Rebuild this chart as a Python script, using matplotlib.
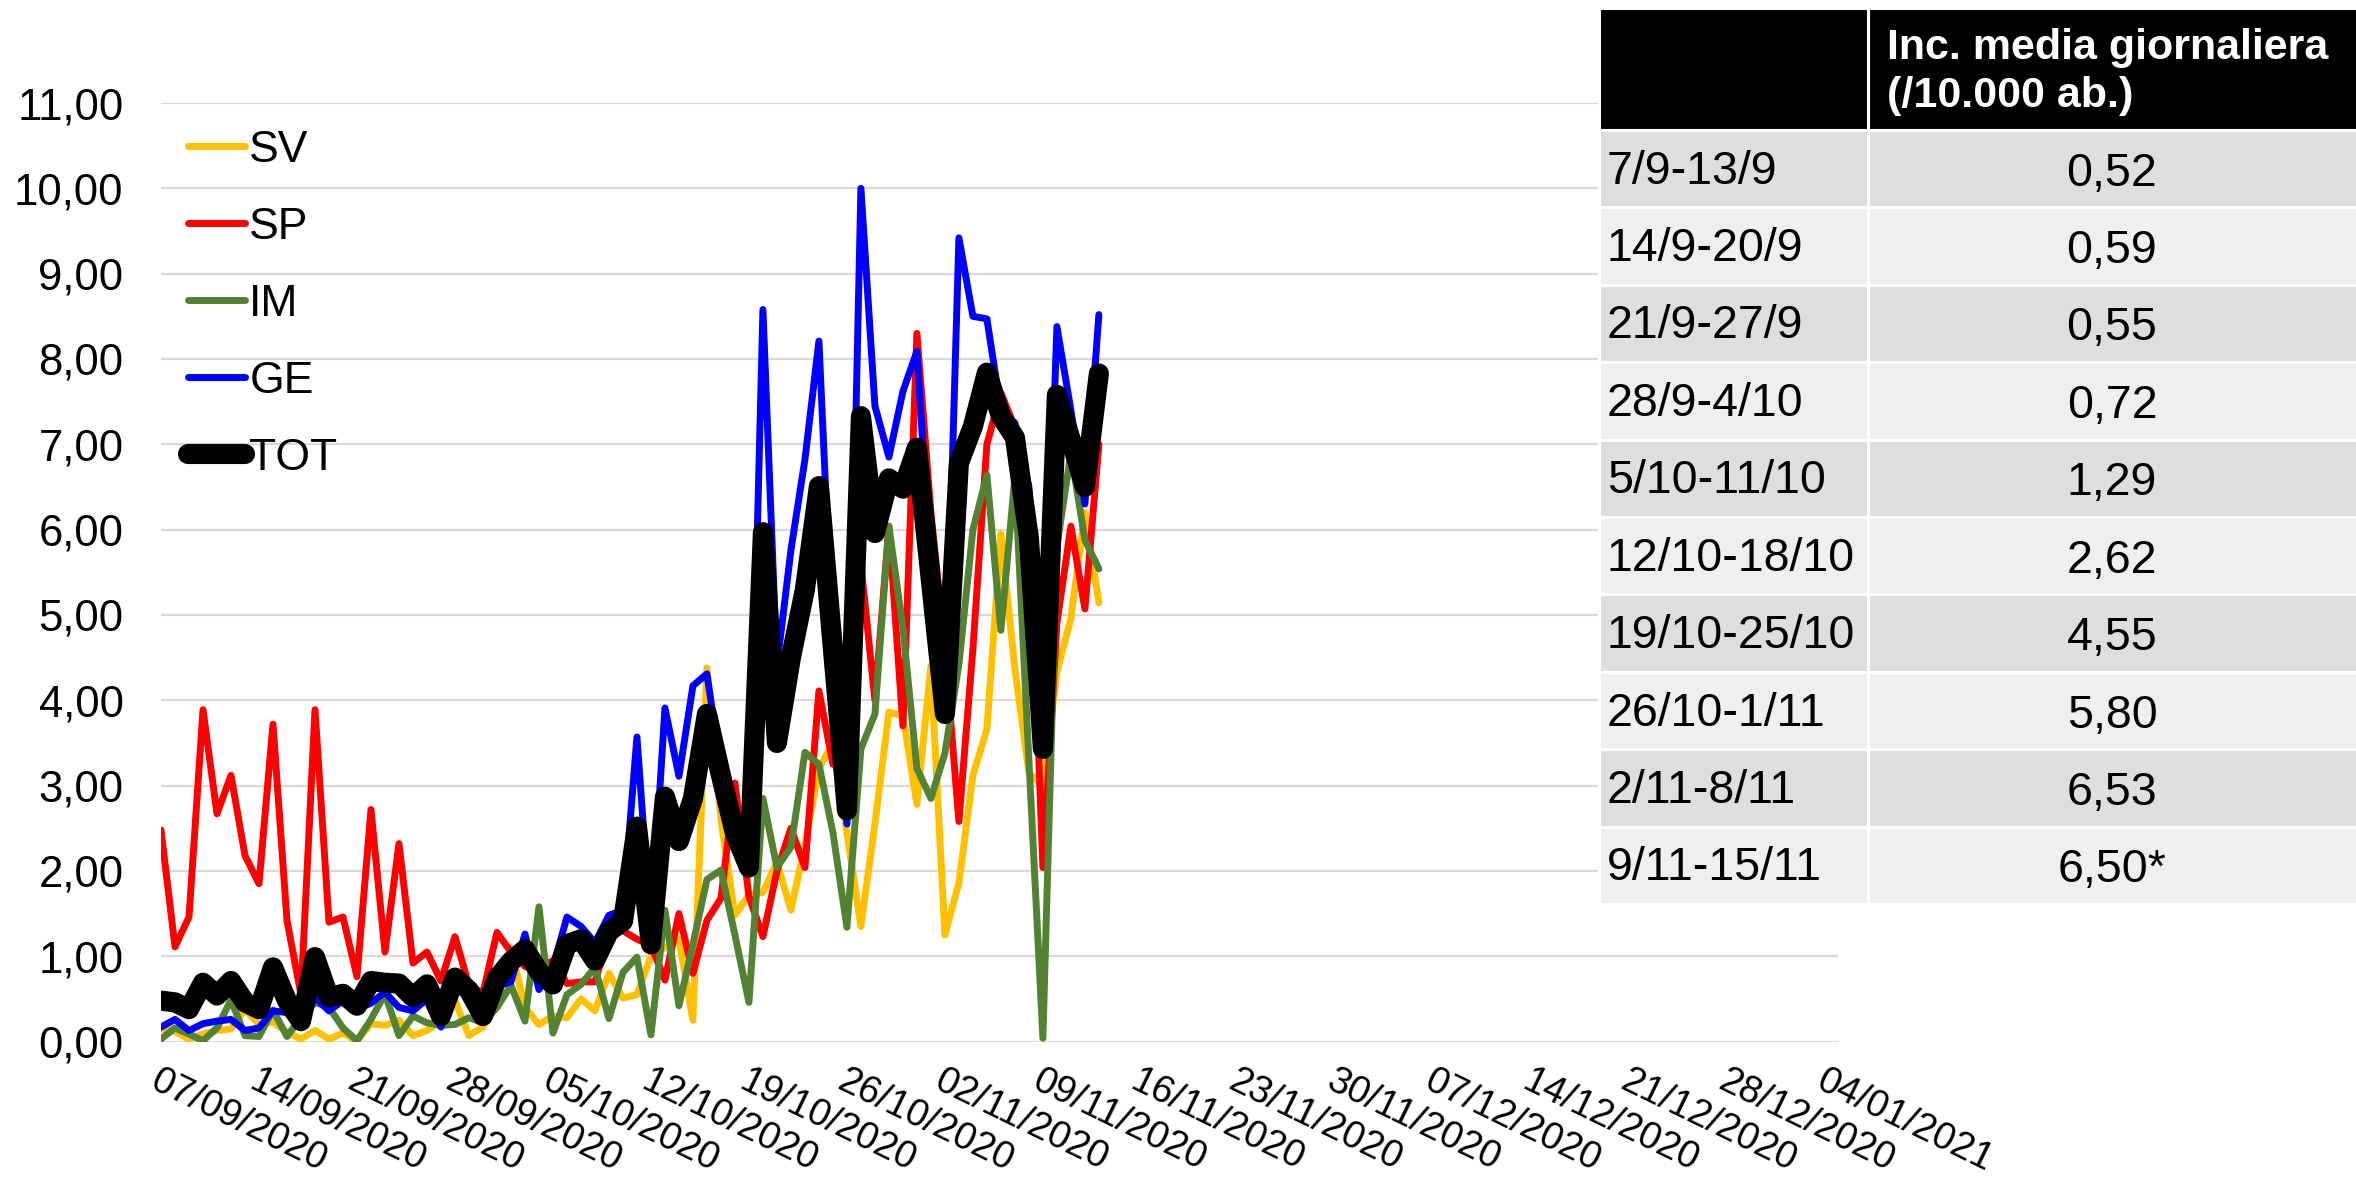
import matplotlib
matplotlib.use('Agg')
import matplotlib.pyplot as plt
from matplotlib.patches import Rectangle
from matplotlib.transforms import ScaledTranslation
import pandas as pd

plt.rcParams['font.family'] = ['Liberation Sans', 'DejaVu Sans']

# daily incidence per 10.000 inhabitants, 07/09/2020 - 13/11/2020
days = pd.date_range('2020-09-07', '2020-11-13', freq='D').to_pydatetime()

sv = [0.15, 0.12, 0.03, 0.09, 0.13, 0.15, 0.38, 0.20, 0.23, 0.11,
      0.03, 0.13, 0.03, 0.10, 0.01, 0.21, 0.19, 0.25, 0.07, 0.13,
      0.24, 0.48, 0.07, 0.17, 0.65, 1.10, 0.40, 0.20, 0.30, 0.28,
      0.50, 0.36, 0.80, 0.51, 0.55, 1.00, 1.10, 1.20, 0.25, 4.38,
      2.60, 1.48, 1.72, 1.75, 2.10, 1.54, 2.30, 3.20, 3.50, 2.45,
      1.35, 2.55, 3.86, 3.82, 2.78, 4.40, 1.25, 1.86, 3.12, 3.66,
      5.95, 4.37, 3.15, 3.00, 4.33, 4.96, 6.20, 5.14]
sp = [2.48, 1.11, 1.46, 3.89, 2.67, 3.12, 2.18, 1.85, 3.72, 1.42,
      0.55, 3.89, 1.40, 1.46, 0.76, 2.72, 1.05, 2.32, 0.92, 1.05,
      0.71, 1.23, 0.66, 0.57, 1.28, 1.05, 0.88, 0.85, 0.95, 0.68,
      0.70, 0.70, 1.25, 1.30, 1.20, 1.13, 0.72, 1.50, 0.80, 1.42,
      1.68, 3.03, 1.70, 1.23, 2.00, 2.50, 2.04, 4.11, 3.25, 4.30,
      5.60, 4.00, 6.04, 3.70, 8.30, 6.20, 4.60, 2.58, 4.60, 7.00,
      7.60, 7.20, 6.43, 2.04, 4.90, 6.04, 5.07, 7.00]
im = [0.03, 0.16, 0.09, 0.01, 0.16, 0.49, 0.07, 0.06, 0.37, 0.06,
      0.28, 0.46, 0.40, 0.16, 0.01, 0.26, 0.56, 0.07, 0.30, 0.22,
      0.19, 0.20, 0.28, 0.22, 0.40, 0.66, 0.24, 1.58, 0.10, 0.55,
      0.67, 0.87, 0.27, 0.81, 0.99, 0.08, 1.54, 0.42, 1.14, 1.90,
      2.01, 1.25, 0.46, 2.85, 2.04, 2.28, 3.39, 3.25, 2.45, 1.34,
      3.43, 3.84, 6.04, 4.85, 3.20, 2.85, 3.38, 4.42, 6.00, 6.64,
      4.82, 6.62, 3.30, 0.04, 5.80, 6.90, 5.88, 5.54]
ge = [0.17, 0.26, 0.13, 0.21, 0.24, 0.26, 0.13, 0.16, 0.36, 0.34,
      0.16, 0.52, 0.36, 0.48, 0.38, 0.45, 0.58, 0.40, 0.36, 0.50,
      0.17, 0.62, 0.58, 0.30, 0.65, 0.70, 1.26, 0.61, 0.87, 1.46,
      1.35, 1.16, 1.48, 1.54, 3.57, 1.30, 3.91, 3.11, 4.17, 4.31,
      3.20, 2.60, 2.10, 8.58, 4.40, 5.76, 6.82, 8.21, 4.60, 2.55,
      10.00, 7.45, 6.85, 7.62, 8.09, 5.50, 3.80, 9.42, 8.50, 8.47,
      7.40, 7.25, 6.50, 3.55, 8.38, 7.40, 6.30, 8.52]
tot = [0.48, 0.46, 0.38, 0.69, 0.54, 0.71, 0.46, 0.38, 0.87, 0.48,
       0.24, 0.99, 0.52, 0.56, 0.42, 0.71, 0.69, 0.68, 0.52, 0.67,
       0.30, 0.75, 0.60, 0.30, 0.74, 0.94, 1.08, 0.82, 0.67, 1.14,
       1.20, 0.95, 1.29, 1.41, 2.52, 1.14, 2.87, 2.35, 2.85, 3.84,
       3.12, 2.44, 2.04, 5.97, 3.50, 4.50, 5.30, 6.51, 4.60, 2.71,
       7.33, 5.96, 6.60, 6.48, 6.96, 5.40, 3.84, 6.78, 7.21, 7.84,
       7.33, 7.08, 5.90, 3.43, 7.58, 7.05, 6.50, 7.83]

week_labels = ['7/9-13/9', '14/9-20/9', '21/9-27/9', '28/9-4/10', '5/10-11/10',
               '12/10-18/10', '19/10-25/10', '26/10-1/11', '2/11-8/11', '9/11-15/11']
week_values = ['0,52', '0,59', '0,55', '0,72', '1,29',
               '2,62', '4,55', '5,80', '6,53', '6,50*']
table_header = 'Inc. media giornaliera\n(/10.000 ab.)'

series = [('SV', sv, '#FFC000', 5),
          ('SP', sp, '#FF0000', 5),
          ('IM', im, '#548235', 5),
          ('GE', ge, '#0000FF', 5),
          ('TOT', tot, '#000000', 14.5)]

W, H = 2356, 1178
fig = plt.figure(figsize=(W / 100, H / 100), dpi=100)
ax = fig.add_axes([161 / W, 1 - 1041.6 / H, (1838 - 161) / W, (1041.6 - 103) / H])

for name, vals, color, lw in series:
    ax.plot(days, vals, color=color, lw=lw, label=name,
            solid_joinstyle='round', solid_capstyle='round')

ax.set_ylim(0, 11)
ax.set_yticks(range(0, 12))
ax.yaxis.set_major_formatter(lambda v, p: f'{v:.2f}'.replace('.', ','))

ticks = pd.date_range('2020-09-07', '2021-01-04', freq='7D').to_pydatetime()
ax.set_xlim(days[0], days[0] + pd.Timedelta(days=119.8))
ax.set_xticks(ticks)
ax.set_xticklabels([t.strftime('%d/%m/%Y') for t in ticks], rotation=-26,
                   ha='left', va='top', rotation_mode='anchor', fontsize=27.5)
shift = ScaledTranslation(0.15, 0, fig.dpi_scale_trans)
for lab in ax.get_xticklabels():
    lab.set_transform(lab.get_transform() + shift)
ax.tick_params(axis='x', length=0, pad=15)
ax.tick_params(axis='y', length=0, pad=27, labelsize=31.5)
ax.grid(axis='y', color='#d9d9d9', lw=1.6)
ax.set_axisbelow(True)
for s in ax.spines.values():
    s.set_visible(False)

ax.legend(loc='upper left', bbox_to_anchor=(188 / W, 1 - 130 / H),
          bbox_transform=fig.transFigure, frameon=False, fontsize=32,
          handlelength=1.28, handletextpad=0.1, labelspacing=0.81,
          borderpad=0, borderaxespad=0)

# weekly table on the right
tax = fig.add_axes([0, 0, 1, 1], zorder=5)
tax.set_xlim(0, W)
tax.set_ylim(H, 0)
tax.axis('off')

x0, x1, x2 = 1599, 1868, 2360
hdr_top, hdr_bot = 8, 130
row_h = 77.4
for xa, xb in [(x0, x1), (x1, x2)]:
    tax.add_patch(Rectangle((xa, hdr_top), xb - xa, hdr_bot - hdr_top,
                            facecolor='black', edgecolor='white', lw=2.2))
tax.text(x1 + 19, (hdr_top + hdr_bot) / 2 + 3, table_header, color='white',
         fontsize=31, fontweight='bold', ha='left', va='center', linespacing=1.25)

for i, (lab, val) in enumerate(zip(week_labels, week_values)):
    top = hdr_bot + i * row_h
    fc = '#dedede' if i % 2 == 0 else '#efefef'
    for xa, xb in [(x0, x1), (x1, x2)]:
        tax.add_patch(Rectangle((xa, top), xb - xa, row_h,
                                facecolor=fc, edgecolor='white', lw=2.2))
    yc = top + row_h / 2
    tax.text(x0 + 8, yc + 3, lab, fontsize=33.5, ha='left', va='center')
    tax.text((x1 + 2356) / 2, yc + 5, val, fontsize=33.5, ha='center', va='center')

fig.savefig('out.png', dpi=100)
